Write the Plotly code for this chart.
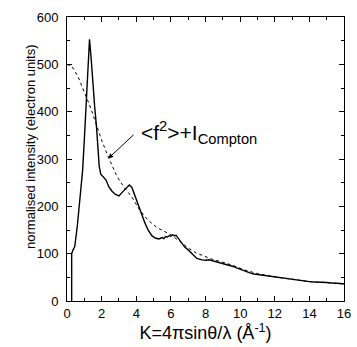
import plotly.graph_objects as go

# Measured curve (solid)
k_meas = [0.27, 0.27, 0.35, 0.45, 0.6, 0.75, 0.9, 1.0, 1.1, 1.2, 1.3, 1.4, 1.5, 1.6, 1.7, 1.78,
          1.86, 1.95, 2.1, 2.25, 2.42, 2.6, 2.8, 3.0, 3.2, 3.4, 3.6, 3.75, 3.9, 4.0, 4.15, 4.3,
          4.5, 4.68, 4.9, 5.1, 5.3, 5.5, 5.6, 5.7, 5.8, 5.9, 6.0, 6.1, 6.2, 6.3, 6.45, 6.6, 6.8,
          7.0, 7.3, 7.5, 7.8, 8.0, 8.2, 8.4, 8.6, 8.8, 9.0, 9.2, 9.4, 9.6, 9.8, 10.0, 10.2,
          10.4, 10.6, 10.8, 11.0, 11.2, 11.4, 11.6, 11.8, 12.0, 12.2, 12.5, 12.8, 13.0, 13.3,
          13.5, 13.8, 14.0, 14.3, 14.5, 14.8, 15.0, 15.3, 15.5, 15.8, 16.0]
i_meas = [0, 100, 108, 115, 160, 215, 275, 340, 420, 500, 553, 510, 450, 410, 370, 320,
          285, 268, 262, 256, 241, 232, 225, 222, 230, 238, 245, 240, 225, 213, 198, 185,
          165, 150, 138, 133, 131, 134, 132, 136, 135, 138, 137, 140, 138, 139, 131, 122, 114,
          108, 96, 90, 87, 86, 87, 85, 84, 82, 80, 78, 76, 73, 70, 67, 65,
          62, 59, 57, 56, 55, 54, 53, 52, 51, 49, 48, 47, 45, 44,
          42, 42, 41, 40, 40, 39, 39, 38, 38, 37, 36]

# <f^2> + I_Compton (dotted)
k_calc = [0, 0.3, 0.64, 0.9, 1.1, 1.4, 1.67, 2.0, 2.4, 2.89, 3.3, 3.74, 4.2, 4.68, 5.2, 5.6,
          6.0, 6.55, 7.0, 7.49, 8.0, 8.4, 9.0, 9.6, 10.3, 11.0, 12.0, 13.0, 14.0, 15.0, 16.0]
i_calc = [500, 495, 474, 450, 432, 405, 375, 340, 303, 263, 240, 220, 192, 171, 155, 148,
          140, 125, 112, 101, 93, 88, 82, 75, 65, 58, 51, 46, 41, 39, 36]

FONT = "Liberation Sans, Arial"

fig = go.Figure()
fig.add_trace(go.Scatter(x=k_calc, y=i_calc, mode="lines",
                         line=dict(color="black", width=1, dash="dot"), showlegend=False))
fig.add_trace(go.Scatter(x=k_meas, y=i_meas, mode="lines",
                         line=dict(color="black", width=1.4), showlegend=False))

fig.add_annotation(x=2.38, y=301, ax=3.93, ay=354, xref="x", yref="y", axref="x", ayref="y",
                   text="", showarrow=True, arrowhead=2, arrowsize=1, arrowwidth=1,
                   arrowcolor="black")
fig.add_annotation(x=4.15, y=355, xref="x", yref="y", xanchor="left", yanchor="middle",
                   text="<f<sup>2</sup>>+I<sub>Compton</sub>", showarrow=False,
                   font=dict(family=FONT, size=21, color="black"))
fig.add_annotation(x=-0.134, y=0.542, xref="paper", yref="paper", xanchor="center",
                   yanchor="middle", textangle=-90, showarrow=False,
                   text="normalised intensity (electron units)",
                   font=dict(family=FONT, size=13, color="black"))

axis_common = dict(showline=True, linecolor="black", linewidth=1, mirror="allticks",
                   ticks="inside", ticklen=5, tickcolor="black", showgrid=False,
                   zeroline=False, ticklabeloverflow="allow",
                   tickfont=dict(family=FONT, size=13, color="black"))
fig.update_xaxes(range=[0, 16], dtick=2, tick0=0,
                 minor=dict(ticks="inside", dtick=1, ticklen=3, tickcolor="black"),
                 title=dict(text="K=4πsinθ/λ (Å<sup>-1</sup>)", standoff=4,
                            font=dict(family=FONT, size=18, color="black")),
                 **axis_common)
fig.update_yaxes(range=[0, 600], dtick=100, tick0=0, ticklabelstandoff=5,
                 minor=dict(ticks="inside", dtick=50, ticklen=3, tickcolor="black"),
                 **axis_common)
fig.update_layout(width=357, height=347, margin=dict(l=67, r=6, t=17, b=46),
                  plot_bgcolor="white", paper_bgcolor="white")
fig.write_html("out.html")
